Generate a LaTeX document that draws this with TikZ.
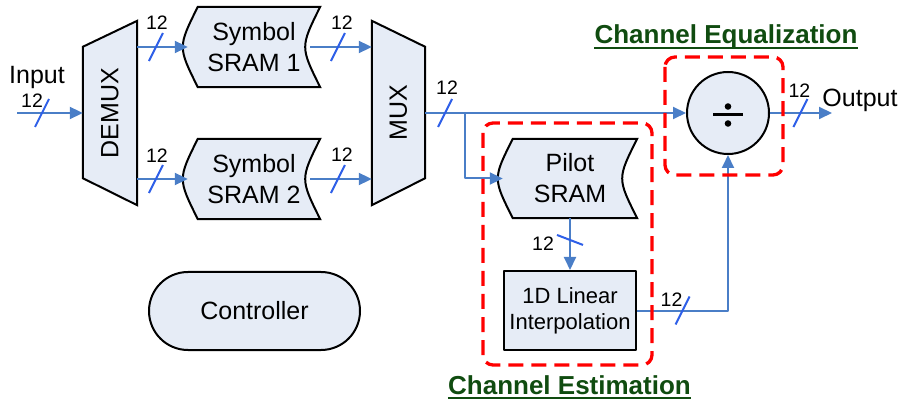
\documentclass[tikz,border=0pt]{standalone}
\usepackage{fontspec}
\setmainfont{Liberation Sans}
\usetikzlibrary{arrows.meta,backgrounds}
\definecolor{boxfill}{RGB}{230,236,246}
\definecolor{wire}{RGB}{74,126,199}
\definecolor{busblue}{RGB}{46,95,232}
\definecolor{grpred}{RGB}{255,0,0}
\definecolor{grpgreen}{RGB}{16,76,16}

\newcommand\srampath[1]{%
  \draw[blk] ([xshift=10pt]#1.north west) -- (#1.north east)
    .. controls ([xshift=-20pt]#1.east) .. (#1.south east)
    -- ([xshift=10pt]#1.south west)
    .. controls ([xshift=-10pt]#1.west) .. ([xshift=10pt]#1.north west) -- cycle;}

\begin{document}
\begin{tikzpicture}[x=1pt,y=-1pt,line join=round,>={Triangle[length=13pt,width=12pt]},
  txt/.style={font=\fontsize{25}{31}\selectfont,align=center,inner sep=0pt},
  blk/.style={draw=black,line width=2pt,fill=boxfill},
  box/.style={txt,minimum width=132pt,minimum height=80pt},
  wirearrow/.style={->,draw=wire,line width=2pt},
  slash/.style={draw=busblue,line width=2pt},
  num/.style={font=\fontsize{19.5}{22}\selectfont,inner sep=0pt},
  group/.style={draw=grpred,line width=3.3pt,dash pattern=on 15pt off 8pt,rounded corners=10pt},
  title/.style={font=\fontsize{26}{30}\selectfont\bfseries,text=grpgreen,inner sep=0pt,anchor=base}]
  \useasboundingbox (0,0) rectangle (902,403);

  \node[txt,minimum width=54pt,minimum height=184pt] (demux) at (110,113) {\rotatebox{90}{DEMUX}};
  \node[box] (sram1) at (254,47) {Symbol\\SRAM 1};
  \node[box] (sram2) at (254,179) {Symbol\\SRAM 2};
  \node[txt,minimum width=53pt,minimum height=184pt] (mux) at (398.5,113) {\rotatebox{90}{MUX}};
  \node[box,minimum width=134pt,minimum height=79pt] (pilot) at (570,178.5) {Pilot\\SRAM};
  \node[box,blk,font=\fontsize{22}{26}\selectfont,minimum height=79pt] (interp) at (570,310.5) {1D Linear\\Interpolation};
  \node[txt,blk,circle,minimum size=82pt] (divider) at (728,113) {};
  \node[txt,blk,rounded corners=39pt,minimum width=211pt,minimum height=78pt] (ctrl) at (254.5,311) {Controller};
  \node[txt] (inlbl) at (37,77) {Input};
  \node[txt] (outlbl) at (860,100) {Output};
  \coordinate (in) at (17,113);
  \coordinate (out) at (832,113);

  % mux outlines and memory shapes behind the labels
  \begin{scope}[on background layer]
    \draw[blk] ([yshift=-26pt]demux.north west) -- (demux.north east) -- (demux.south east) -- ([yshift=27pt]demux.south west) -- cycle;
    \draw[blk] (mux.north west) -- ([yshift=-26pt]mux.north east) -- ([yshift=27pt]mux.south east) -- (mux.south west) -- cycle;
    \srampath{sram1} \srampath{sram2} \srampath{pilot}
  \end{scope}

  % ÷
  \draw[line width=3pt] ([shift={(-15,2)}]divider.center) -- ([shift={(15,2)}]divider.center);
  \fill ([shift={(0,-6.5)}]divider.center) circle (3.3pt) ([shift={(0,10.5)}]divider.center) circle (3.3pt);

  \draw[wirearrow] (in) -- coordinate[pos=.38] (b0) (demux.west);
  \draw[wirearrow] (demux.east |- sram1) -- coordinate[pos=.37] (b1) (sram1.west);
  \draw[wirearrow] (demux.east |- sram2) -- coordinate[pos=.37] (b2) (sram2.west);
  \draw[wirearrow] ([xshift=-10pt]sram1.east) -- coordinate[pos=.45] (b3) (mux.west |- sram1);
  \draw[wirearrow] ([xshift=-10pt]sram2.east) -- coordinate[pos=.45] (b4) (mux.west |- sram2);
  \draw[wirearrow] (mux.east) -- coordinate[pos=.076] (b5) coordinate[pos=.153] (br) (divider.west);
  \draw[wirearrow] (br) |- (pilot.west);
  \draw[wirearrow] (pilot.south) -- coordinate[pos=.42] (b7) (interp.north);
  \draw[wirearrow] (interp.east) -| coordinate[pos=.25] (b8) (divider.south);
  \draw[wirearrow] (divider.east) -- coordinate[pos=.49] (b6) (out);

  \foreach \b/\dx/\dy in {b0/-10/-12, b1/1/-24, b2/1/-23, b3/4/-24, b4/4/-24, b5/2/-25, b6/-1/-22, b8/-11/-11} {
    \draw[slash] ([shift={(-7,14)}]\b) -- ([shift={(7,-14)}]\b);
    \node[num] (n\b) at ([shift={(\dx,\dy)}]\b) {12};
  }
  \draw[slash] ([shift={(-13,-5)}]b7) -- ([shift={(13,5)}]b7);
  \node[num] (nb7) at ([shift={(-27,4)}]b7) {12};

  \draw[group] (665,57) rectangle (783,175);
  \draw[group] (483,123) rectangle (652,365);
  \node[title] (eqtitle) at (726,44) {Channel Equalization};
  \draw[grpgreen,line width=2.5pt] ([yshift=-4pt]eqtitle.base west) -- ([yshift=-4pt]eqtitle.base east);
  \node[title] (esttitle) at (569.5,394) {Channel Estimation};
  \draw[grpgreen,line width=2.5pt] ([yshift=-4pt]esttitle.base west) -- ([yshift=-4pt]esttitle.base east);
\end{tikzpicture}
\end{document}
